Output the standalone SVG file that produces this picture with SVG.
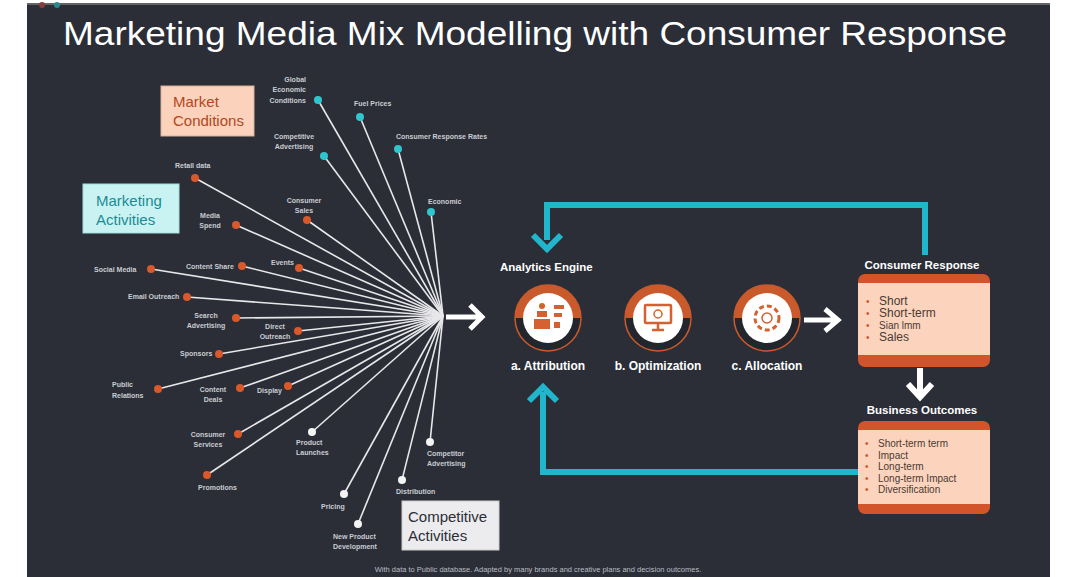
<svg xmlns="http://www.w3.org/2000/svg" width="1080" height="577" viewBox="0 0 1080 577">
<defs>
<style>
.t{font-family:"Liberation Sans",Arial,sans-serif}
.lab{font-family:"Liberation Sans",Arial,sans-serif;font-size:7px;fill:#c9ccd2;font-weight:bold}
.sp{stroke:#e8e8ea;stroke-width:1.6}
.or{fill:#d9592a}.te{fill:#2fc6cf}.wh{fill:#f4f4f4}
.loop{fill:none;stroke:#22b6cc;stroke-width:6}
.bul{font-family:"Liberation Sans",Arial,sans-serif;font-size:12px;fill:#4a3a34}
.sm{font-family:"Liberation Sans",Arial,sans-serif;font-size:10px;fill:#4a3a34}
.dot{fill:#d1542a;font-family:"Liberation Sans",Arial,sans-serif;font-size:10px}
.hd{font-family:"Liberation Sans",Arial,sans-serif;font-size:11.5px;font-weight:bold;fill:#fff}
</style>
</defs>
<rect width="1080" height="577" fill="#fff"/>
<rect x="27" y="3" width="1023" height="574" fill="#2b2e37"/>
<line x1="27" y1="4" x2="1050" y2="4" stroke="#777" stroke-width="1.5"/>
<circle cx="42" cy="5" r="3" fill="#8a3b3b"/><circle cx="57" cy="5" r="3" fill="#2a8a8a"/>
<text x="63" y="45" textLength="944" lengthAdjust="spacingAndGlyphs" class="t" font-size="34" fill="#fff">Marketing Media Mix Modelling with Consumer Response</text>

<g id="connectors">
<g class="sp">
<line x1="318" y1="100" x2="443" y2="316"/><line x1="360" y1="117" x2="443" y2="316"/><line x1="324" y1="156" x2="443" y2="316"/><line x1="398" y1="149" x2="443" y2="316"/><line x1="431" y1="212" x2="443" y2="316"/>
<line x1="195" y1="178" x2="443" y2="316"/><line x1="236" y1="225" x2="443" y2="316"/><line x1="307" y1="220" x2="443" y2="316"/><line x1="151" y1="269" x2="443" y2="316"/><line x1="242" y1="266" x2="443" y2="316"/><line x1="299" y1="268" x2="443" y2="316"/><line x1="187" y1="297" x2="443" y2="316"/><line x1="236" y1="318" x2="443" y2="316"/><line x1="298" y1="331" x2="443" y2="316"/><line x1="219" y1="354" x2="443" y2="316"/><line x1="158" y1="389" x2="443" y2="316"/><line x1="240" y1="388" x2="443" y2="316"/><line x1="288" y1="386" x2="443" y2="316"/><line x1="238" y1="434" x2="443" y2="316"/><line x1="207" y1="475" x2="443" y2="316"/>
<line x1="312" y1="432" x2="443" y2="316"/><line x1="344" y1="494" x2="443" y2="316"/><line x1="358" y1="524" x2="443" y2="316"/><line x1="402" y1="480" x2="443" y2="316"/><line x1="430" y1="442" x2="443" y2="316"/>
</g>
<path d="M446 317 H480 M470 305 L482 317 L470 329" fill="none" stroke="#fff" stroke-width="5"/>
<path d="M804 320 H836 M825 309 L838 320 L825 331" fill="none" stroke="#fff" stroke-width="5"/>
<path d="M920 368 V395 M908 384 L920 397 L932 384" fill="none" stroke="#fff" stroke-width="6"/>
<path class="loop" d="M925 255 V205 H547 V240"/>
<path d="M533 235 L547 249 L561 235" class="loop"/>
<path class="loop" d="M858 472 H543 V392"/>
<path d="M529 401 L543 387 L557 401" class="loop"/>
</g>

<g id="dots">
<circle cx="318" cy="100" r="4" class="te"/><circle cx="360" cy="117" r="4" class="te"/><circle cx="324" cy="156" r="4" class="te"/><circle cx="398" cy="149" r="4" class="te"/><circle cx="431" cy="212" r="4" class="te"/>
<circle cx="195" cy="178" r="4" class="or"/><circle cx="236" cy="225" r="4" class="or"/><circle cx="307" cy="220" r="4" class="or"/><circle cx="151" cy="269" r="4" class="or"/><circle cx="242" cy="266" r="4" class="or"/><circle cx="299" cy="268" r="4" class="or"/><circle cx="187" cy="297" r="4" class="or"/><circle cx="236" cy="318" r="4" class="or"/><circle cx="298" cy="331" r="4" class="or"/><circle cx="219" cy="354" r="4" class="or"/><circle cx="158" cy="389" r="4" class="or"/><circle cx="240" cy="388" r="4" class="or"/><circle cx="288" cy="386" r="4" class="or"/><circle cx="238" cy="434" r="4" class="or"/><circle cx="207" cy="475" r="4" class="or"/>
<circle cx="312" cy="432" r="4" class="wh"/><circle cx="344" cy="494" r="4" class="wh"/><circle cx="358" cy="524" r="4" class="wh"/><circle cx="402" cy="480" r="4" class="wh"/><circle cx="430" cy="442" r="4" class="wh"/>
</g>

<g id="labels">
<text class="lab" text-anchor="end"><tspan x="306" y="82">Global</tspan><tspan x="306" y="92">Economic</tspan><tspan x="306" y="103">Conditions</tspan></text>
<text class="lab" x="354" y="106">Fuel Prices</text>
<text class="lab" text-anchor="middle"><tspan x="294" y="139">Competitive</tspan><tspan x="294" y="149">Advertising</tspan></text>
<text class="lab" x="396" y="139">Consumer Response Rates</text>
<text class="lab" x="428" y="204">Economic</text>
<text class="lab" x="175" y="168">Retail data</text>
<text class="lab" text-anchor="middle"><tspan x="304" y="203">Consumer</tspan><tspan x="304" y="213">Sales</tspan></text>
<text class="lab" text-anchor="middle"><tspan x="210" y="218">Media</tspan><tspan x="210" y="228">Spend</tspan></text>
<text class="lab" x="94" y="272">Social Media</text>
<text class="lab" x="186" y="269">Content Share</text>
<text class="lab" x="271" y="265">Events</text>
<text class="lab" x="128" y="299">Email Outreach</text>
<text class="lab" text-anchor="middle"><tspan x="206" y="318">Search</tspan><tspan x="206" y="328">Advertising</tspan></text>
<text class="lab" text-anchor="middle"><tspan x="275" y="329">Direct</tspan><tspan x="275" y="339">Outreach</tspan></text>
<text class="lab" x="180" y="356">Sponsors</text>
<text class="lab"><tspan x="112" y="387">Public</tspan><tspan x="112" y="398">Relations</tspan></text>
<text class="lab" text-anchor="middle"><tspan x="213" y="392">Content</tspan><tspan x="213" y="402">Deals</tspan></text>
<text class="lab" x="257" y="393">Display</text>
<text class="lab" text-anchor="middle"><tspan x="208" y="437">Consumer</tspan><tspan x="208" y="447">Services</tspan></text>
<text class="lab" x="198" y="490">Promotions</text>
<text class="lab"><tspan x="296" y="445">Product</tspan><tspan x="296" y="455">Launches</tspan></text>
<text class="lab" x="321" y="509">Pricing</text>
<text class="lab"><tspan x="333" y="539">New Product</tspan><tspan x="333" y="549">Development</tspan></text>
<text class="lab" x="396" y="494">Distribution</text>
<text class="lab"><tspan x="427" y="456">Competitor</tspan><tspan x="427" y="466">Advertising</tspan></text>
</g>

<g id="market-conditions"><rect x="161" y="86" width="93" height="50" fill="#fbd3bc" stroke="#d8b09a"/><text class="t" font-size="15" fill="#b4461f"><tspan x="173" y="107">Market</tspan><tspan x="173" y="126">Conditions</tspan></text></g>
<g id="marketing-activities"><rect x="83" y="184" width="96" height="49" fill="#c9f3f3" stroke="#a6dede"/><text class="t" font-size="15" fill="#1a8c93"><tspan x="96" y="206">Marketing</tspan><tspan x="96" y="225">Activities</tspan></text></g>
<g id="competitive-activities"><rect x="402" y="501" width="97" height="49" fill="#ececee" stroke="#ccc"/><text class="t" font-size="15" fill="#2b2e37"><tspan x="408" y="522">Competitive</tspan><tspan x="408" y="541">Activities</tspan></text></g>

<g id="analytics-engine">
<text class="hd" x="500" y="271">Analytics Engine</text>
<g id="attribution"><circle cx="548" cy="318" r="33" fill="#24262d" stroke="#c95a2c" stroke-width="1.5"/><path d="M515 318 A33 33 0 0 1 581 318 Z" fill="#c95a2c"/><circle cx="548" cy="318" r="25" fill="#fff"/>
<rect x="534" y="319" width="16" height="10" fill="#d4612f"/><rect x="537" y="311" width="10" height="6" fill="#d4612f"/><circle cx="542" cy="306" r="3" fill="#d4612f"/><rect x="554" y="305" width="10" height="4" fill="#d4612f"/><rect x="554" y="313" width="8" height="4" fill="#d4612f"/><rect x="554" y="322" width="6" height="6" fill="#d4612f"/>
<text class="t" x="548" y="370" text-anchor="middle" font-size="12" font-weight="bold" fill="#fff">a. Attribution</text></g>
<g id="optimization"><circle cx="658" cy="318" r="33" fill="#24262d" stroke="#c95a2c" stroke-width="1.5"/><path d="M625 318 A33 33 0 0 1 691 318 Z" fill="#c95a2c"/><circle cx="658" cy="318" r="25" fill="#fff"/>
<rect x="645" y="305" width="26" height="18" rx="1" fill="none" stroke="#d4612f" stroke-width="2.5"/><path d="M652 330 H664 M658 323 V330" stroke="#d4612f" stroke-width="2.5"/><circle cx="658" cy="314" r="4" fill="none" stroke="#d4612f" stroke-width="1.5"/>
<text class="t" x="658" y="370" text-anchor="middle" font-size="12" font-weight="bold" fill="#fff">b. Optimization</text></g>
<g id="allocation"><circle cx="767" cy="318" r="33" fill="#24262d" stroke="#c95a2c" stroke-width="1.5"/><path d="M734 318 A33 33 0 0 1 800 318 Z" fill="#c95a2c"/><circle cx="767" cy="318" r="25" fill="#fff"/>
<circle cx="767" cy="318" r="12" fill="none" stroke="#d4612f" stroke-width="3" stroke-dasharray="5 3"/><circle cx="767" cy="318" r="5" fill="none" stroke="#d4612f" stroke-width="1.5"/>
<text class="t" x="767" y="370" text-anchor="middle" font-size="12" font-weight="bold" fill="#fff">c. Allocation</text></g>
</g>

<g id="consumer-response">
<text class="hd" x="922" y="269" text-anchor="middle">Consumer Response</text>
<rect x="858" y="274" width="132" height="93" rx="7" fill="#d1542a"/><rect x="858" y="283" width="132" height="72" fill="#fcd4bd"/>
<text class="dot"><tspan x="866" y="305">•</tspan><tspan x="866" y="317">•</tspan><tspan x="866" y="329">•</tspan><tspan x="866" y="341">•</tspan></text>
<text class="bul"><tspan x="879" y="305">Short</tspan><tspan x="879" y="317">Short-term</tspan><tspan x="879" y="329" font-size="10">Sian lmm</tspan><tspan x="879" y="341">Sales</tspan></text>
</g>
<g id="business-outcomes">
<text class="hd" x="922" y="414" text-anchor="middle">Business Outcomes</text>
<rect x="858" y="421" width="132" height="93" rx="7" fill="#d1542a"/><rect x="858" y="430" width="132" height="74" fill="#fcd4bd"/>
<text class="dot"><tspan x="865" y="447">•</tspan><tspan x="865" y="459">•</tspan><tspan x="865" y="470">•</tspan><tspan x="865" y="482">•</tspan><tspan x="865" y="493">•</tspan></text>
<text class="sm"><tspan x="878" y="447">Short-term term</tspan><tspan x="878" y="459">Impact</tspan><tspan x="878" y="470">Long-term</tspan><tspan x="878" y="482">Long-term Impact</tspan><tspan x="878" y="493">Diversification</tspan></text>
</g>
<text class="t" x="538" y="572" text-anchor="middle" font-size="7.5" fill="#b9bcc3">With data to Public database. Adapted by many brands and creative plans and decision outcomes.</text>
</svg>
